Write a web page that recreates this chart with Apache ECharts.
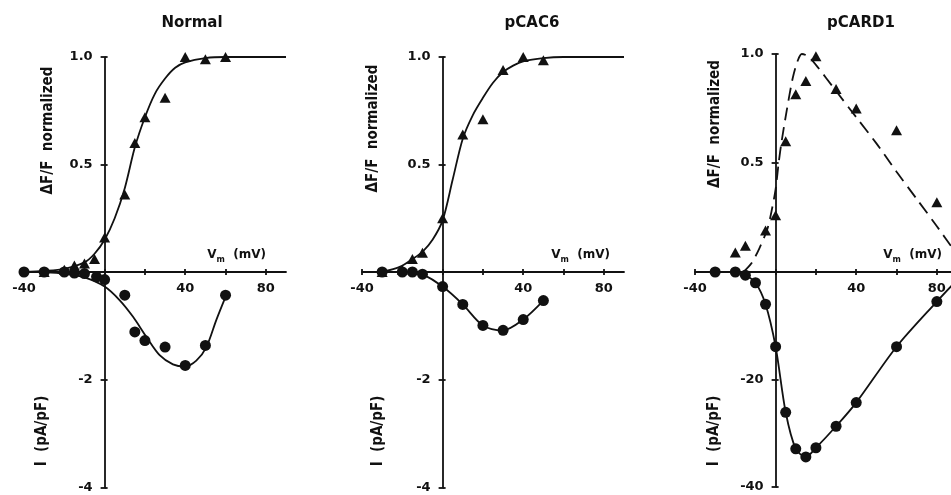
<!DOCTYPE html>
<html>
<head>
<meta charset="utf-8">
<script src="https://cdn.jsdelivr.net/npm/echarts@6/dist/echarts.min.js"></script>
<style>
html,body{margin:0;padding:0;background:#fff}
#chart{width:951px;height:495px}
</style>
</head>
<body>
<div id="chart"></div>
<script>
// axis ticks / labels
const xTicks = [-40, -20, 0, 20, 40, 60, 80];
const xLabels = [-40, 40, 80];
const fTicks = [0.5, 1];

// Normal
const normTriV = [-30, -20, -15, -10, -5, 0, 10, 15, 20, 30, 40, 50, 60];
const normTriF = [0, 0.01, 0.03, 0.04, 0.06, 0.16, 0.36, 0.6, 0.72, 0.81, 1.0, 0.99, 1.0];
const normFitV = [-40, -30, -20, -10, -5, 0, 5, 10, 15, 20, 25, 30, 35, 40, 50, 60, 90];
const normFitF = [0, 0.005, 0.015, 0.045, 0.085, 0.15, 0.25, 0.39, 0.58, 0.72, 0.83, 0.9, 0.95, 0.975, 0.995, 1, 1];
const normCirV = [-40, -30, -20, -15, -10, -4, 0, 10, 15, 20, 30, 40, 50, 60];
const normCirI = [0, 0, 0, -0.02, -0.03, -0.09, -0.14, -0.43, -1.11, -1.27, -1.39, -1.73, -1.36, -0.43];
const normIFitV = [-30, -20, -10, 0, 7.4, 14.1, 20.7, 27.3, 33.9, 39.7, 45.5, 50.5, 55.4, 60];
const normIFitI = [0, -0.03, -0.1, -0.27, -0.52, -0.83, -1.2, -1.54, -1.71, -1.75, -1.64, -1.39, -0.89, -0.46];

// pCAC6
const cacTriV = [-30, -20, -15, -10, 0, 10, 20, 30, 40, 50];
const cacTriF = [0, 0.01, 0.06, 0.09, 0.25, 0.64, 0.71, 0.94, 1.0, 0.985];
const cacFitV = [-30, -21, -15, -10, -5, 0, 5, 10, 15, 20, 25, 30, 35, 40, 50, 60, 90];
const cacFitF = [0, 0.025, 0.06, 0.094, 0.15, 0.24, 0.43, 0.62, 0.73, 0.81, 0.88, 0.93, 0.96, 0.98, 0.995, 1, 1];
const cacCirV = [-30, -20, -15, -10, 0, 10, 20, 30, 40, 50];
const cacCirI = [0, 0, 0, -0.04, -0.27, -0.6, -0.99, -1.08, -0.88, -0.53];

// pCARD1
const cardTriV = [-20, -15, -5, 0, 5, 10, 15, 20, 30, 40, 60, 80];
const cardTriF = [0.09, 0.12, 0.19, 0.26, 0.6, 0.815, 0.876, 0.99, 0.84, 0.75, 0.65, 0.32];
const cardFitV = [-16, -12, -8, -4, -2, 0, 1.5, 3, 5.5, 8.5, 11, 13, 16, 20, 30, 40, 50, 60, 70, 80, 90];
const cardFitF = [0, 0.04, 0.11, 0.2, 0.28, 0.38, 0.5, 0.6, 0.74, 0.89, 0.97, 1.0, 0.99, 0.95, 0.83, 0.71, 0.59, 0.46, 0.335, 0.21, 0.08];
const cardCirV = [-30, -20, -15, -10, -5, 0, 5, 10, 15, 20, 30, 40, 60, 80];
const cardCirI = [0, 0, -0.6, -2.0, -6.0, -13.9, -26.1, -32.9, -34.4, -32.7, -28.7, -24.3, -13.9, -5.5];
const cardIFitV = [-30, -20, -15, -10, -5, 0, 5, 10, 15, 20, 30, 40, 60, 80, 90];
const cardIFitI = [0, 0, -0.6, -2.0, -6.0, -13.9, -26.1, -32.9, -34.4, -32.7, -28.7, -24.3, -13.9, -5.5, -1.5];

const X_MIN = -40, X_MAX = 90;
const INK = '#111';
const FONT = '"DejaVu Sans", sans-serif';
const NAMEFONT = '"DejaVu Sans Condensed", "DejaVu Sans", sans-serif';

const panels = [
  {title: 'Normal', triV: normTriV, triF: normTriF, fitV: normFitV, fitF: normFitF,
   cirV: normCirV, cirI: normCirI, iFitV: normIFitV, iFitI: normIFitI, dashed: false, iMin: -4, iTicks: [-2, -4]},
  {title: 'pCAC6', triV: cacTriV, triF: cacTriF, fitV: cacFitV, fitF: cacFitF,
   cirV: cacCirV, cirI: cacCirI, iFitV: cacCirV, iFitI: cacCirI, dashed: false, iMin: -4, iTicks: [-2, -4]},
  {title: 'pCARD1', triV: cardTriV, triF: cardTriF, fitV: cardFitV, fitF: cardFitF,
   cirV: cardCirV, cirI: cardCirI, iFitV: cardIFitV, iFitI: cardIFitI, dashed: true, iMin: -40, iTicks: [-20, -40]}
];

// pixel layout of each panel
const layout = [
  {left: 24, width: 262, top: 57, mid: 272, bottom: 488, title: 187, gapF: 49, gapI: 55, padF: 68, padI: 102, vmGap: -20},
  {left: 362, width: 262, top: 57, mid: 272, bottom: 488, title: 527, gapF: 62, gapI: 57, padF: 72, padI: 102, vmGap: -14},
  {left: 695, width: 262, top: 54, mid: 272, bottom: 487, title: 856, gapF: 53, gapI: 54, padF: 78, padI: 103, vmGap: -15}
];

function pts(xs, ys) {
  return xs.map(function (x, i) { return [x, ys[i]]; });
}

const lineSt = {color: INK, width: 1.8};
const labelSt = {color: INK, fontFamily: FONT, fontWeight: 'bold', fontSize: 13};

let title = [], grid = [], xAxis = [], yAxis = [], series = [];

panels.forEach(function (p, i) {
  const L = layout[i];
  const gU = 2 * i, gL = 2 * i + 1;
  const yOff = -L.width * (0 - X_MIN) / (X_MAX - X_MIN);

  title.push({text: p.title, left: L.title, top: 11, textAlign: 'center',
    textStyle: {color: INK, fontFamily: FONT, fontWeight: 'bold', fontSize: 15}});

  grid.push({left: L.left, width: L.width, top: L.top, height: L.mid - L.top, outerBoundsMode: 'none'});
  grid.push({left: L.left, width: L.width, top: L.mid, height: L.bottom - L.mid, outerBoundsMode: 'none'});

  xAxis.push({
    gridIndex: gU, type: 'value', min: X_MIN, max: X_MAX, position: 'bottom',
    axisLine: {show: true, onZero: false, lineStyle: lineSt},
    axisTick: {show: true, customValues: xTicks, length: 3, lineStyle: lineSt},
    axisLabel: Object.assign({customValues: xLabels, margin: 10}, labelSt),
    splitLine: {show: false},
    name: '{v|V}{s|m}{v|  (mV)}', nameLocation: 'end', nameGap: L.vmGap,
    nameTextStyle: {align: 'right', verticalAlign: 'bottom', padding: [0, 0, 8, 0],
      rich: {
        v: {color: INK, fontFamily: FONT, fontWeight: 'bold', fontSize: 12, lineHeight: 18},
        s: {color: INK, fontFamily: FONT, fontWeight: 'bold', fontSize: 8, lineHeight: 18, verticalAlign: 'bottom'}
      }}
  });
  xAxis.push({
    gridIndex: gL, type: 'value', min: X_MIN, max: X_MAX, position: 'top',
    axisLine: {show: false, onZero: false},
    axisTick: {show: true, customValues: xTicks, length: 3, lineStyle: lineSt},
    axisLabel: {show: false}, splitLine: {show: false}
  });

  // fluorescence axis (upper grid) + twin for inner tick half
  yAxis.push({
    gridIndex: gU, type: 'value', min: 0, max: 1, position: 'left', offset: yOff,
    axisLine: {show: true, onZero: false, lineStyle: lineSt},
    axisTick: {show: true, customValues: fTicks, length: 4, lineStyle: lineSt},
    axisLabel: Object.assign({customValues: fTicks, margin: 12,
      formatter: function (v) { return v.toFixed(1); }}, labelSt),
    splitLine: {show: false},
    name: 'ΔF/F  normalized', nameLocation: 'middle', nameGap: L.gapF,
    nameTextStyle: {color: INK, fontFamily: NAMEFONT, fontWeight: 'bold', fontSize: 15,
      padding: [0, 0, 0, L.padF]}
  });
  yAxis.push({
    gridIndex: gU, type: 'value', min: 0, max: 1, position: 'left', offset: yOff,
    axisLine: {show: false, onZero: false},
    axisTick: {show: true, inside: true, customValues: fTicks, length: 3, lineStyle: lineSt},
    axisLabel: {show: false}, splitLine: {show: false}
  });
  // current axis (lower grid) + twin
  yAxis.push({
    gridIndex: gL, type: 'value', min: p.iMin, max: 0, position: 'left', offset: yOff,
    axisLine: {show: true, onZero: false, lineStyle: lineSt},
    axisTick: {show: true, customValues: p.iTicks, length: 4, lineStyle: lineSt},
    axisLabel: Object.assign({customValues: p.iTicks, margin: 12}, labelSt),
    splitLine: {show: false},
    name: 'I  (pA/pF)', nameLocation: 'middle', nameGap: L.gapI,
    nameTextStyle: {color: INK, fontFamily: NAMEFONT, fontWeight: 'bold', fontSize: 15,
      padding: [0, L.padI, 0, 0]}
  });
  yAxis.push({
    gridIndex: gL, type: 'value', min: p.iMin, max: 0, position: 'left', offset: yOff,
    axisLine: {show: false, onZero: false},
    axisTick: {show: true, inside: true, customValues: p.iTicks, length: 3, lineStyle: lineSt},
    axisLabel: {show: false}, splitLine: {show: false}
  });

  series.push({
    type: 'line', xAxisIndex: gU, yAxisIndex: 2 * gU, data: pts(p.fitV, p.fitF),
    smooth: 0.3, symbol: 'none', clip: false, silent: true, z: 2,
    lineStyle: {color: INK, width: 1.8, type: p.dashed ? [13, 7] : 'solid'}
  });
  series.push({
    type: 'scatter', xAxisIndex: gU, yAxisIndex: 2 * gU, data: pts(p.triV, p.triF),
    symbol: 'triangle', symbolSize: [11, 10], clip: false, silent: true, z: 3,
    itemStyle: {color: INK, opacity: 1}
  });
  series.push({
    type: 'line', xAxisIndex: gL, yAxisIndex: 2 * gL, data: pts(p.iFitV, p.iFitI),
    smooth: 0.3, symbol: 'none', clip: false, silent: true, z: 2,
    lineStyle: {color: INK, width: 1.8}
  });
  series.push({
    type: 'scatter', xAxisIndex: gL, yAxisIndex: 2 * gL, data: pts(p.cirV, p.cirI),
    symbol: 'circle', symbolSize: 11, clip: false, silent: true, z: 3,
    itemStyle: {color: INK, opacity: 1}
  });
});

let myChart = echarts.init(document.getElementById('chart'));
myChart.setOption({
  animation: false,
  backgroundColor: '#fff',
  title: title,
  grid: grid,
  xAxis: xAxis,
  yAxis: yAxis,
  series: series
});
</script>
</body>
</html>
